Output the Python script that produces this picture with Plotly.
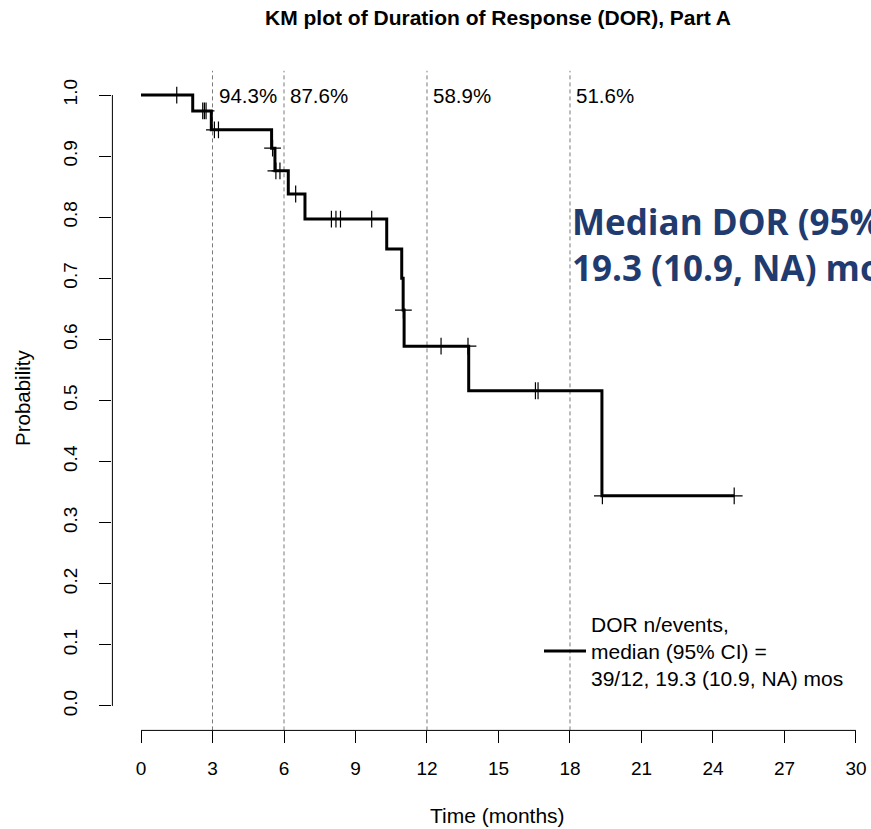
import plotly.graph_objects as go

# Kaplan-Meier step function: event times (months) and survival after each event
event_times = [2.17, 2.95, 5.48, 5.62, 6.18, 6.88, 10.31, 10.94, 11.00, 11.04, 13.75, 19.34]
survival = [0.974, 0.943, 0.913, 0.876, 0.838, 0.797, 0.748, 0.700, 0.648, 0.589, 0.516, 0.344]
last_followup = 24.89

# censored observations (months)
censor_times = [1.50, 2.59, 2.66, 2.73, 3.08, 3.25, 5.52, 5.66, 5.83, 6.49,
                7.99, 8.18, 8.37, 9.68, 11.01, 12.59, 13.72, 16.55, 16.66, 19.36, 24.89]

# landmark times with survival shown at the top
landmarks = [3, 6, 12, 18]

x_ticks = [0, 3, 6, 9, 12, 15, 18, 21, 24, 27, 30]
y_ticks = [0.0, 0.1, 0.2, 0.3, 0.4, 0.5, 0.6, 0.7, 0.8, 0.9, 1.0]
y_tick_text = ["0.0", "0.1", "0.2", "0.3", "0.4", "0.5", "0.6", "0.7", "0.8", "0.9", "1.0"]

legend_label = "DOR n/events,<br>median (95% CI) =<br>39/12, 19.3 (10.9, NA) mos"
median_text = "Median DOR (95% CI):<br>19.3 (10.9, NA) mos"


def surv_at(t):
    s = 1.0
    for et, sv in zip(event_times, survival):
        if et <= t:
            s = sv
    return s


W, H = 871, 829
# plot region in pixels
PX_L, PX_R, PX_T, PX_B = 112.4, 871.0, 70.6, 730.4
X_RANGE = [-1.2, 30.63]
Y_RANGE = [-0.04, 1.04]


def fx(px):
    return px / W


def fy(py):
    return 1 - py / H


TEXT_FONT = "Liberation Sans, Arial, sans-serif"

fig = go.Figure()

fig.add_trace(go.Scatter(
    x=[0] + event_times + [last_followup],
    y=[1.0] + survival + [survival[-1]],
    mode="lines",
    line=dict(color="black", width=3, shape="hv"),
    name=legend_label,
    hoverinfo="skip",
))

fig.add_trace(go.Scatter(
    x=censor_times,
    y=[surv_at(t) for t in censor_times],
    mode="markers",
    marker=dict(symbol="cross-thin", size=12, line=dict(color="black", width=1.2)),
    showlegend=False,
    cliponaxis=False,
    hoverinfo="skip",
))

shapes = []
for t in landmarks:
    shapes.append(dict(type="line", xref="x", yref="y", x0=t, x1=t,
                       y0=Y_RANGE[0], y1=Y_RANGE[1],
                       line=dict(color="#7a7a7a", width=1, dash="4px,3px"),
                       layer="below"))
# detached axis lines spanning first to last tick
shapes.append(dict(type="line", xref="x", yref="paper", x0=x_ticks[0], x1=x_ticks[-1],
                   y0=fy(PX_B), y1=fy(PX_B), line=dict(color="black", width=1)))
shapes.append(dict(type="line", xref="paper", yref="y", x0=fx(PX_L), x1=fx(PX_L),
                   y0=y_ticks[0], y1=y_ticks[-1], line=dict(color="black", width=1)))

annotations = []
for t in landmarks:
    annotations.append(dict(
        x=t, y=1.0, xref="x", yref="y", text=f"{surv_at(t) * 100:.1f}%",
        showarrow=False, xanchor="left", yanchor="middle", xshift=4,
        font=dict(family=TEXT_FONT, size=20.5, color="black"),
    ))

annotations.append(dict(
    x=fx(570), y=fy(244), xref="paper", yref="paper", text=median_text,
    showarrow=False, xanchor="left", yanchor="middle", align="left",
    font=dict(family="Open Sans, sans-serif", size=35, color="#1f3b6f", weight="bold"),
))

annotations.append(dict(
    x=fx(497), y=fy(815), xref="paper", yref="paper", text="Time (months)",
    showarrow=False, xanchor="center", yanchor="middle",
    font=dict(family=TEXT_FONT, size=21, color="black"),
))
annotations.append(dict(
    x=fx(22), y=fy(398), xref="paper", yref="paper", text="Probability",
    showarrow=False, xanchor="center", yanchor="middle", textangle=-90,
    font=dict(family=TEXT_FONT, size=20.5, color="black"),
))

fig.update_layout(
    width=W, height=H,
    margin=dict(l=0, r=0, t=0, b=0),
    paper_bgcolor="white", plot_bgcolor="white",
    font=dict(family=TEXT_FONT, color="black"),
    title=dict(
        text="KM plot of Duration of Response (DOR), Part A",
        x=fx(498), y=fy(18), xref="container", yref="container",
        xanchor="center", yanchor="middle",
        font=dict(family=TEXT_FONT, size=21, color="black", weight="bold"),
    ),
    xaxis=dict(
        domain=[fx(PX_L), fx(PX_R)], range=X_RANGE,
        tickvals=x_ticks, ticks="outside", ticklen=12, tickwidth=1, tickcolor="black",
        tickfont=dict(size=19, family=TEXT_FONT, color="black"),
        ticklabelstandoff=9,
        showgrid=False, zeroline=False, showline=False, automargin=False,
    ),
    yaxis=dict(
        domain=[fy(PX_B), fy(PX_T)], range=Y_RANGE,
        tickvals=y_ticks, ticktext=y_tick_text, tickangle=-90,
        ticks="outside", ticklen=12, tickwidth=1, tickcolor="black",
        tickfont=dict(size=19, family=TEXT_FONT, color="black"),
        ticklabelstandoff=15,
        showgrid=False, zeroline=False, showline=False, automargin=False,
    ),
    showlegend=True,
    legend=dict(
        x=fx(539), y=fy(651), xanchor="left", yanchor="middle",
        bgcolor="rgba(0,0,0,0)", itemwidth=42,
        font=dict(family=TEXT_FONT, size=21, color="black"),
    ),
    shapes=shapes,
    annotations=annotations,
)

fig.write_html("out.html")
